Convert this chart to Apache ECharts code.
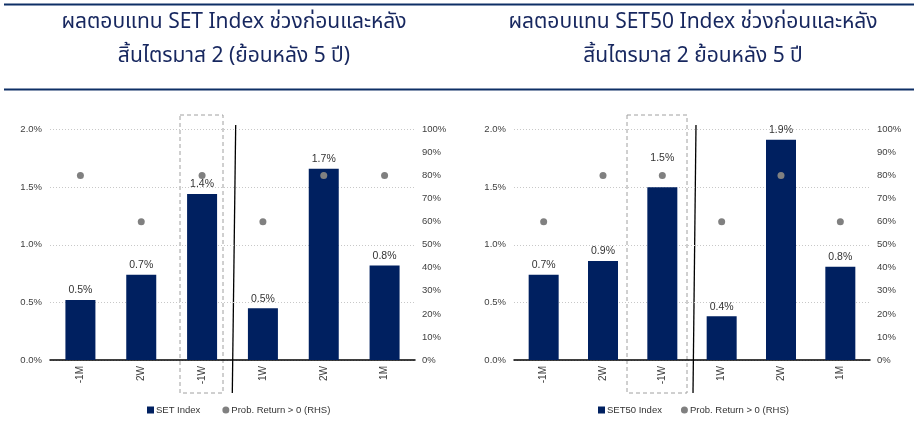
<!DOCTYPE html>
<html>
<head>
<meta charset="utf-8">
<script src="https://cdn.jsdelivr.net/npm/echarts@6/dist/echarts.min.js"></script>
<style>
  html, body { margin: 0; padding: 0; background: #fff; }
  #chart { width: 914px; height: 421px; }
</style>
</head>
<body>
<div id="chart"></div>
<script>
const categories = ['-1M', '2W', '-1W', '1W', '2W', '1M']
const setReturns = [0.52, 0.74, 1.44, 0.45, 1.66, 0.82]
const setProb = [80, 60, 80, 60, 80, 80]
const set50Returns = [0.74, 0.86, 1.50, 0.38, 1.91, 0.81]
const set50Prob = [60, 80, 80, 60, 80, 60]

const titleLeft = ['ผลตอบแทน SET Index ช่วงก่อนและหลัง', 'สิ้นไตรมาส 2 (ย้อนหลัง 5 ปี)']
const titleRight = ['ผลตอบแทน SET50 Index ช่วงก่อนและหลัง', 'สิ้นไตรมาส 2 ย้อนหลัง 5 ปี']
const probName = 'Prob. Return > 0 (RHS)'

const navy = '#002060'
const grey = '#808080'
const sans = 'Liberation Sans, Arial, sans-serif'
const axisFont = { fontFamily: sans, fontSize: 9.5, color: '#404040' }
const titleFont = '21px "Noto Sans Thai", "Noto Sans", sans-serif'

const chart = echarts.init(document.getElementById('chart'))

function xAxis(gridIndex) {
  return {
    type: 'category', gridIndex, data: categories,
    axisLine: { lineStyle: { color: '#000', width: 1.5 } },
    axisTick: { show: false },
    axisLabel: { ...axisFont, fontSize: 10, rotate: 90, margin: 6, interval: 0 },
  }
}

function yLeft(gridIndex) {
  return {
    type: 'value', gridIndex, min: 0, max: 2, interval: 0.5,
    axisLabel: { ...axisFont, margin: 8, formatter: (v) => v.toFixed(1) + '%' },
    splitLine: { lineStyle: { color: '#c8c8c8', type: [1, 2] } },
  }
}

function yRight(gridIndex) {
  return {
    type: 'value', gridIndex, min: 0, max: 100, interval: 10, position: 'right',
    axisLabel: { ...axisFont, margin: 7, formatter: '{value}%' },
    splitLine: { show: false },
  }
}

// raised: index of a bar whose label sits higher to clear the dot
function bars(name, values, idx, raised) {
  const data = values.map((v, i) => (i === raised ? { value: v, label: { distance: 24 } } : v))
  return {
    name, type: 'bar', xAxisIndex: idx, yAxisIndex: idx * 2, data, barWidth: 30,
    itemStyle: { color: navy },
    label: {
      show: true, position: 'top', distance: 4, color: '#333',
      fontFamily: sans, fontSize: 10.5,
      formatter: (p) => p.value.toFixed(1) + '%',
    },
  }
}

function dots(data, idx) {
  return {
    name: probName, type: 'scatter', xAxisIndex: idx, yAxisIndex: idx * 2 + 1, data,
    symbolSize: 7, itemStyle: { color: grey, opacity: 1 },
  }
}

function legend(left, barName, gap) {
  return {
    left, top: 405, padding: 0, itemWidth: 7, itemHeight: 7, itemGap: gap,
    textStyle: { fontFamily: sans, fontSize: 9.5, color: '#333', padding: [0, 0, 0, -3] },
    data: [{ name: barName, icon: 'rect' }, { name: probName, icon: 'circle' }],
    selectedMode: false,
  }
}

const rule = (y) => ({ type: 'line', shape: { x1: 4, y1: y, x2: 914, y2: y }, style: { stroke: '#0e2f66', lineWidth: 2 } })
const titleText = (text, x, y) => ({ type: 'text', x, y, style: { text, fill: '#17275f', font: titleFont, align: 'center', verticalAlign: 'middle' } })
const box = (x, w) => ({ type: 'rect', shape: { x, y: 115, width: w, height: 278 }, style: { fill: 'none', stroke: '#a0a0a0', lineWidth: 1, lineDash: [4, 3] } })
const divider = (xTop, xBottom) => ({ type: 'line', shape: { x1: xTop, y1: 125, x2: xBottom, y2: 393 }, style: { stroke: '#000', lineWidth: 1.3 } })

chart.setOption({
  animation: false,
  grid: [
    { left: 50, right: 499, top: 129.5, bottom: 61 },
    { left: 514, right: 44, top: 129.5, bottom: 61 },
  ],
  xAxis: [xAxis(0), xAxis(1)],
  yAxis: [yLeft(0), yRight(0), yLeft(1), yRight(1)],
  legend: [legend(147, 'SET Index', 22), legend(598, 'SET50 Index', 19)],
  series: [
    bars('SET Index', setReturns, 0, -1),
    dots(setProb, 0),
    bars('SET50 Index', set50Returns, 1, 2),
    dots(set50Prob, 1),
  ],
  graphic: [
    rule(4.5), rule(89.5),
    titleText(titleLeft[0], 234, 24), titleText(titleLeft[1], 234, 58),
    titleText(titleRight[0], 693, 24), titleText(titleRight[1], 693, 58),
    box(180, 43), box(627, 60),
    divider(235.7, 232.3), divider(696, 693),
  ],
})
</script>
</body>
</html>
